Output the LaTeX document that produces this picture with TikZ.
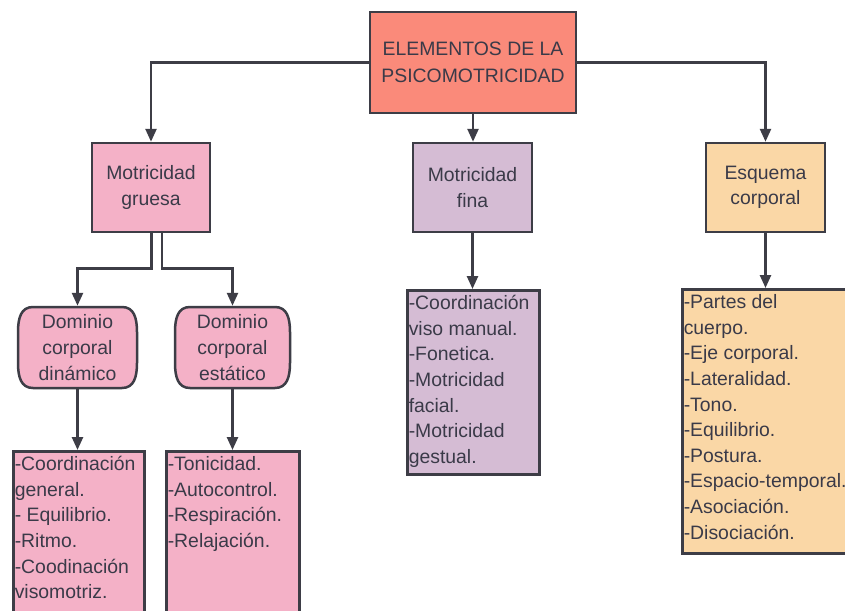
\documentclass[tikz,border=0pt]{standalone}
\usepackage{fontspec}
\setmainfont{Liberation Sans}
\usetikzlibrary{arrows.meta}
\definecolor{salmonfill}{RGB}{250,138,122}
\definecolor{pinkfill}{RGB}{244,177,199}
\definecolor{lavfill}{RGB}{213,188,212}
\definecolor{orangefill}{RGB}{250,215,166}
\definecolor{bordercol}{RGB}{61,61,70}
\definecolor{txtcol}{RGB}{58,58,72}
\newcommand{\lbx}[3]{\parbox[c][#2][t]{#1}{\raggedright\strut #3}}
\begin{document}
\begin{tikzpicture}[x=1pt,y=-1pt,
  box/.style={draw=bordercol, line width=2.5pt, text=txtcol,
    font=\fontsize{19.4}{25.6}\selectfont, align=center, inner sep=0pt},
  listbox/.style={box, anchor=north west, align=left, inner sep=1.5pt},
  shapeline/.style={draw=bordercol, line width=2.5pt},
  arr/.style={draw=bordercol, line width=2.5pt, -{Triangle[width=11pt,length=13pt]}}]
\useasboundingbox (0,0) rectangle (845,610);
\fill[white] (0,0) rectangle (845,610);

% header boxes
\node[box, fill=salmonfill, minimum width=206pt, minimum height=101pt,
  font=\fontsize{19.4}{26.5}\selectfont] (top) at (473,62.5) {ELEMENTOS DE LA\\PSICOMOTRICIDAD};
\node[box, fill=pinkfill, minimum width=118pt, minimum height=89pt] (gru) at (151,187.5) {Motricidad\\gruesa};
\node[box, fill=lavfill, minimum width=119pt, minimum height=89pt] (fin) at (472.5,187.5) {Motricidad\\fina};
\node[box, fill=orangefill, minimum width=119pt, minimum height=89pt] (esq) at (765.5,187.5) {Esquema\\corporal};

% rounded "Dominio" shapes
\path[shapeline, fill=pinkfill] (33,307) -- (122,307)
  .. controls (134,307) and (137,318) .. (137,332) -- (137,363)
  .. controls (137,377) and (134,388) .. (122,388) -- (33,388)
  .. controls (21,388) and (18,377) .. (18,363) -- (18,332)
  .. controls (18,318) and (21,307) .. (33,307) -- cycle;
\path[shapeline, fill=pinkfill] (190,307) -- (275,307)
  .. controls (287,307) and (290,318) .. (290,332) -- (290,363)
  .. controls (290,377) and (287,388) .. (275,388) -- (190,388)
  .. controls (178,388) and (175,377) .. (175,363) -- (175,332)
  .. controls (175,318) and (178,307) .. (190,307) -- cycle;
\node[box, draw=none, minimum width=119pt, minimum height=81pt] (din) at (77.5,347.5) {Dominio\\corporal\\dinámico};
\node[box, draw=none, minimum width=115pt, minimum height=81pt] (est) at (232.5,347.5) {Dominio\\corporal\\estático};

% list boxes
\node[listbox, fill=pinkfill] (ldin) at (12,450) {\lbx{128pt}{172pt}{-Coordinación\\general.\\- Equilibrio.\\-Ritmo.\\-Coodinación\\visomotriz.}};
\node[listbox, fill=pinkfill] (lest) at (165,450) {\lbx{130pt}{172pt}{-Tonicidad.\\-Autocontrol.\\-Respiración.\\-Relajación.}};
\node[listbox, fill=lavfill] (lfin) at (406,289) {\lbx{129pt}{181pt}{-Coordinación\\viso manual.\\-Fonetica.\\-Motricidad\\facial.\\-Motricidad\\gestual.}};
\node[listbox, fill=orangefill] (lesq) at (681,288) {\lbx{166pt}{261pt}{-Partes del\\cuerpo.\\-Eje corporal.\\-Lateralidad.\\-Tono.\\-Equilibrio.\\-Postura.\\-Espacio-temporal.\\-Asociación.\\-Disociación.}};

% connectors
\draw[arr] (top.west) -| (gru.north);
\draw[arr] (top.east) -| (esq.north);
\draw[arr] (top.south) -- (top.south |- fin.north);
\draw[arr] ([xshift=0.5pt]gru.south) -- ++(0,35) -| (din.north);
\draw[arr] ([xshift=11pt]gru.south) -- ++(0,35) -| (est.north);
\draw[arr] (din.south) -- (din.south |- ldin.north);
\draw[arr] (est.south) -- (est.south |- lest.north);
\draw[arr] (fin.south) -- (fin.south |- lfin.north);
\draw[arr] (esq.south) -- (esq.south |- lesq.north);
\end{tikzpicture}
\end{document}
